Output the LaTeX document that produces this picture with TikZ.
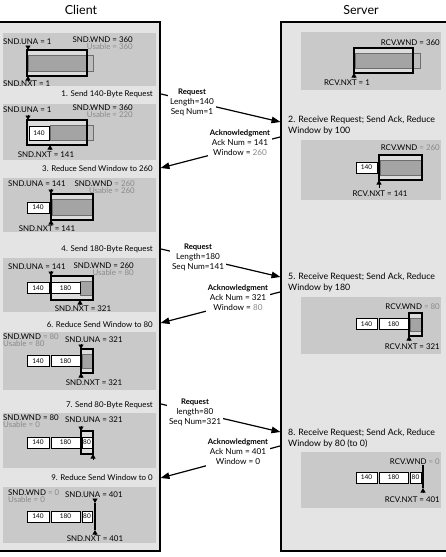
\documentclass[tikz,border=0pt]{standalone}
\usepackage{fontspec}
\setmainfont{Lato}
\usetikzlibrary{arrows.meta}
\definecolor{panel}{HTML}{E4E4E4}
\definecolor{statebg}{HTML}{C9C9C9}
\definecolor{winbg}{HTML}{DCDCDC}
\definecolor{barfill}{HTML}{A4A4A4}
\definecolor{barline}{HTML}{6E6E6E}
\definecolor{protfill}{HTML}{BDBDBD}
\definecolor{gtext}{HTML}{8A8A8A}
\newcommand\msghead[1]{{\fontsize{7.7}{10}\selectfont\bfseries #1}}
\begin{document}
\begin{tikzpicture}[x=1pt,y=-1pt,
  txt/.style={font=\fontsize{7.9}{9}\selectfont, inner sep=0pt},
  gtxt/.style={txt, text=gtext},
  pair/.style={font=\fontsize{7.9}{6.7}\selectfont, inner sep=0pt},
  ttl/.style={font=\fontsize{12.5}{14}\selectfont, inner sep=0pt},
  steplbl/.style={txt, align=left, anchor=north west, font=\fontsize{8.8}{11}\selectfont},
  msgtxt/.style={font=\fontsize{8.2}{10}\selectfont, align=center, fill=white, inner sep=2pt},
  panelbox/.style={fill=panel, draw=black, line width=2pt},
  statebox/.style={fill=statebg},
  numbox/.style={draw=black, line width=0.6pt, fill=white},
  numtxt/.style={font=\fontsize{6.5}{7}\selectfont, inner sep=0pt},
  barbox/.style={fill=barfill, draw=barline, line width=0.5pt},
  protbox/.style={fill=protfill, draw=barline, line width=0.5pt},
  winbox/.style={draw=black, line width=2pt},
  winfill/.style={fill=winbg},
  ptr/.style={-{Triangle[width=5pt,length=4.5pt]}, line width=0.6pt},
  msg/.style={-{Triangle[width=6.5pt,length=9pt]}, line width=1.2pt},
]
\useasboundingbox (0,0) rectangle (446,557);
\fill[white] (0,0) rectangle (446,557);

% titles
\node[ttl] (ctitle) at (81,10) {Client};
\node[ttl] (stitle) at (361,10) {Server};

% panels
\draw[panelbox] (-3,22) rectangle (160,551);
\draw[panelbox] (281,22) rectangle (450,551);

%%%%%%%%%%%%%%%%%%%%%%%% CLIENT %%%%%%%%%%%%%%%%%%%%%%%%
% ---- S0
\fill[statebox] (3,33) rectangle (156,86);
\node[txt, anchor=west] (c0una) at (3,42) {SND.UNA = 1};
\node[pair, align=right, anchor=east] (c0wnd) at (133,43.5) {SND.WND = 360\\\textcolor{gtext}{Usable = 360}};
\fill[winfill] (27,50) rectangle (87,76);
\draw[barbox] (28,55) rectangle (87,71);
\draw[protbox] (87,55) rectangle (93,71);
\draw[winbox] (27,50) rectangle (87,76);
\draw[ptr] (28,45.5) -- (28,50);
\draw[ptr] (28,80.5) -- (28,76);
\node[txt, anchor=west] (c0nxt) at (3,84) {SND.NXT = 1};

% ---- step 1
\node[txt, anchor=east] (step1) at (153,94) {1. Send 140-Byte Request};

% ---- S1
\fill[statebox] (3,104) rectangle (156,160);
\node[txt, anchor=west] (c1una) at (3,110) {SND.UNA = 1};
\node[pair, align=right, anchor=east] (c1wnd) at (133,111.5) {SND.WND = 360\\\textcolor{gtext}{Usable = 220}};
\fill[winfill] (27,120) rectangle (87,145);
\draw[barbox] (50,125) rectangle (87,140);
\draw[protbox] (87,125) rectangle (93,140);
\draw[numbox] (29,126) rectangle (49,140);
\node[numtxt] (c1n140) at (39,133) {140};
\draw[winbox] (27,120) rectangle (87,145);
\draw[ptr] (28,114.5) -- (28,120);
\draw[ptr] (50,149.5) -- (50,145);
\node[txt] (c1nxt) at (46,155) {SND.NXT = 141};

% ---- step 3
\node[txt, anchor=east] (step3) at (153,169) {3. Reduce Send Window to 260};

% ---- S3
\fill[statebox] (3,178) rectangle (156,232);
\node[txt, anchor=west] (c3una) at (8,184) {SND.UNA = 141};
\node[pair, align=right, anchor=east] (c3wnd) at (135,187.5) {SND.WND \textcolor{gtext}{= 260}\\\textcolor{gtext}{Usable = 260}};
\fill[winfill] (51,194) rectangle (93,220);
\draw[barbox] (52,199) rectangle (92,215);
\draw[numbox] (27,202) rectangle (49,213);
\node[numtxt] (c3n140) at (38,207.5) {140};
\draw[winbox] (51,194) rectangle (93,220);
\draw[ptr] (51,188.5) -- (51,194);
\draw[ptr] (51,224.5) -- (51,220);
\node[txt] (c3nxt) at (47,229) {SND.NXT = 141};

% ---- step 4
\node[txt, anchor=east] (step4) at (153,249) {4. Send 180-Byte Request};

% ---- S4
\fill[statebox] (3,258) rectangle (156,312);
\node[txt, anchor=west] (c4una) at (8,267) {SND.UNA = 141};
\node[pair, align=right, anchor=east] (c4wnd) at (134,269.5) {SND.WND = 260\\\textcolor{gtext}{Usable = 80}};
\fill[winfill] (51,276) rectangle (93,300);
\draw[barbox] (80,281) rectangle (92,295);
\draw[numbox] (27,282.5) rectangle (49,293.5);
\node[numtxt] (c4n140) at (38,288) {140};
\draw[numbox] (51,282.5) rectangle (80,293.5);
\node[numtxt] (c4n180) at (65.5,288) {180};
\draw[winbox] (51,276) rectangle (93,300);
\draw[ptr] (51,271) -- (51,276);
\draw[ptr] (80,304.5) -- (80,300);
\node[txt] (c4nxt) at (83,308.5) {SND.NXT = 321};

% ---- step 6
\node[txt, anchor=east] (step6) at (153,325) {6. Reduce Send Window to 80};

% ---- S6
\fill[statebox] (3,332) rectangle (156,390);
\node[pair, align=left, anchor=west] (c6wnd) at (3,340.5) {SND.WND \textcolor{gtext}{= 80}\\\textcolor{gtext}{Usable = 80}};
\node[txt, anchor=west] (c6una) at (65,340) {SND.UNA = 321};
\fill[winfill] (81,349) rectangle (93,373);
\draw[barbox] (82,354) rectangle (92,368);
\draw[numbox] (27,355.5) rectangle (49,366.5);
\node[numtxt] (c6n140) at (38,361) {140};
\draw[numbox] (51,355.5) rectangle (80,366.5);
\node[numtxt] (c6n180) at (65.5,361) {180};
\draw[winbox] (81,349) rectangle (93,373);
\draw[ptr] (81,344) -- (81,349);
\draw[ptr] (81,377.5) -- (81,373);
\node[txt] (c6nxt) at (94,383) {SND.NXT = 321};

% ---- step 7
\node[txt, anchor=east] (step7) at (153,405) {7. Send 80-Byte Request};

% ---- S7
\fill[statebox] (3,413) rectangle (156,468);
\node[pair, align=left, anchor=west] (c7wnd) at (3,421.5) {SND.WND = 80\\\textcolor{gtext}{Usable = 0}};
\node[txt, anchor=west] (c7una) at (65,420) {SND.UNA = 321};
\fill[winfill] (81,431) rectangle (93,454);
\draw[numbox] (27,437) rectangle (49,448);
\node[numtxt] (c7n140) at (38,442.5) {140};
\draw[numbox] (51,437) rectangle (80,448);
\node[numtxt] (c7n180) at (65.5,442.5) {180};
\draw[numbox] (82,437) rectangle (92,448);
\node[numtxt] (c7n80) at (87,442.5) {80};
\draw[winbox] (81,431) rectangle (93,454);
\draw[ptr] (81,425.5) -- (81,431);
\draw[ptr] (93,459.5) -- (93,454);

% ---- step 9
\node[txt, anchor=east] (step9) at (153,478) {9. Reduce Send Window to 0};

% ---- S9
\fill[statebox] (3,487) rectangle (156,543);
\node[pair, align=left, anchor=west] (c9wnd) at (8,496.5) {SND.WND \textcolor{gtext}{= 0}\\\textcolor{gtext}{Usable = 0}};
\node[txt, anchor=west] (c9una) at (65,495) {SND.UNA = 401};
\draw[numbox] (27,511) rectangle (49,522);
\node[numtxt] (c9n140) at (38,516.5) {140};
\draw[numbox] (51,511) rectangle (80,522);
\node[numtxt] (c9n180) at (65.5,516.5) {180};
\draw[numbox] (82,511) rectangle (92,522);
\node[numtxt] (c9n80) at (87,516.5) {80};
\draw[line width=2.4pt] (95,503) -- (95,530);
\draw[ptr] (95,498.5) -- (95,503);
\draw[ptr] (95,534.5) -- (95,530);
\node[txt] (c9nxt) at (95,538.5) {SND.NXT = 401};

%%%%%%%%%%%%%%%%%%%%%%%% SERVER %%%%%%%%%%%%%%%%%%%%%%%%
% ---- R0
\fill[statebox] (301,32) rectangle (441,90);
\node[txt, anchor=east] (s0wnd) at (440,43) {RCV.WND = 360};
\fill[winfill] (354,48) rectangle (413,73);
\draw[barbox] (355,53) rectangle (413,68);
\draw[protbox] (413,53) rectangle (420,68);
\draw[winbox] (354,48) rectangle (413,73);
\draw[ptr] (354,77.5) -- (354,73);
\node[txt] (s0nxt) at (347,83) {RCV.NXT = 1};

% ---- step 2
\node[steplbl] (step2) at (288,115.5) {2. Receive Request; Send Ack, Reduce\\Window by 100};

% ---- R2
\fill[statebox] (301,140) rectangle (441,200);
\node[txt, anchor=east] (s2wnd) at (440,148) {RCV.WND \textcolor{gtext}{= 260}};
\fill[winfill] (379,155) rectangle (422,180);
\draw[barbox] (380,160) rectangle (421,175);
\draw[numbox] (356,162) rectangle (377,173);
\node[numtxt] (s2n140) at (366.5,167.5) {140};
\draw[winbox] (379,155) rectangle (422,180);
\draw[ptr] (379,188) -- (379,180);
\node[txt] (s2nxt) at (380,194) {RCV.NXT = 141};

% ---- step 5
\node[steplbl] (step5) at (288,272.5) {5. Receive Request; Send Ack, Reduce\\Window by 180};

% ---- R5
\fill[statebox] (301,297) rectangle (441,354);
\node[txt, anchor=east] (s5wnd) at (440,307) {RCV.WND \textcolor{gtext}{= 80}};
\fill[winfill] (409,313) rectangle (422,336);
\draw[barbox] (410,318) rectangle (421,331);
\draw[numbox] (356,318.5) rectangle (377,329.5);
\node[numtxt] (s5n140) at (366.5,324) {140};
\draw[numbox] (379,318.5) rectangle (408,329.5);
\node[numtxt] (s5n180) at (393.5,324) {180};
\draw[winbox] (409,313) rectangle (422,336);
\draw[ptr] (409,341) -- (409,336);
\node[txt, anchor=east] (s5nxt) at (440,347) {RCV.NXT = 321};

% ---- step 8
\node[steplbl] (step8) at (288,428.5) {8. Receive Request; Send Ack, Reduce\\Window by 80 (to 0)};

% ---- R8
\fill[statebox] (301,452) rectangle (441,508);
\node[txt, anchor=east] (s8wnd) at (440,462) {RCV.WND \textcolor{gtext}{= 0}};
\draw[numbox] (356,472) rectangle (377,483);
\node[numtxt] (s8n140) at (366.5,477.5) {140};
\draw[numbox] (379,472) rectangle (408,483);
\node[numtxt] (s8n180) at (393.5,477.5) {180};
\draw[numbox] (410,472) rectangle (421,483);
\node[numtxt] (s8n80) at (415.5,477.5) {80};
\draw[line width=2.4pt] (423,465) -- (423,488);
\draw[ptr] (423,493) -- (423,488);
\node[txt, anchor=east] (s8nxt) at (440,500) {RCV.NXT = 401};

%%%%%%%%%%%%%%%%%%%%%%%% MESSAGES %%%%%%%%%%%%%%%%%%%%%%%%
\coordinate (m1s) at (161,94);
\coordinate (m1e) at (280.5,122);
\coordinate (m2s) at (280,137);
\coordinate (m2e) at (160.5,168);
\coordinate (m3s) at (161,249);
\coordinate (m3e) at (280.5,277);
\coordinate (m4s) at (280,292);
\coordinate (m4e) at (160.5,323);
\coordinate (m5s) at (161,404);
\coordinate (m5e) at (280.5,432);
\coordinate (m6s) at (280,446);
\coordinate (m6e) at (160.5,478);

\draw[msg] (m1s) -- (m1e);
\draw[msg] (m2s) -- (m2e);
\draw[msg] (m3s) -- (m3e);
\draw[msg] (m4s) -- (m4e);
\draw[msg] (m5s) -- (m5e);
\draw[msg] (m6s) -- (m6e);

\node[msgtxt] (req1) at (192,102) {\msghead{Request}\\Length=140\\Seq Num=1};
\node[msgtxt] (ack1) at (240,143) {\msghead{Acknowledgment}\\Ack Num = 141\\Window = \textcolor{gtext}{260}};
\node[msgtxt] (req2) at (198,257) {\msghead{Request}\\Length=180\\Seq Num=141};
\node[msgtxt] (ack2) at (238,298) {\msghead{Acknowledgment}\\Ack Num = 321\\Window = \textcolor{gtext}{80}};
\node[msgtxt] (req3) at (195,412) {\msghead{Request}\\length=80\\Seq Num=321};
\node[msgtxt] (ack3) at (238,452) {\msghead{Acknowledgment}\\Ack Num = 401\\Window = 0};
\end{tikzpicture}
\end{document}
